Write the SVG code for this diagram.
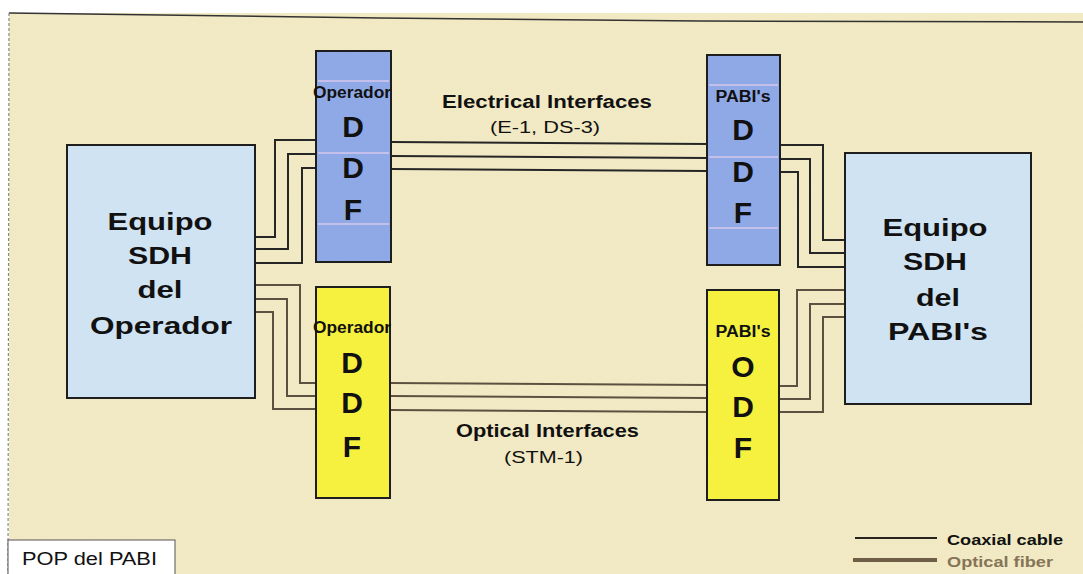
<svg xmlns="http://www.w3.org/2000/svg" width="1083" height="574" viewBox="0 0 1083 574">
<defs>
<style>
.bg{fill:#f2eac4}
.eq{fill:#d0e3f2;stroke:#1e1e1e;stroke-width:2}
.ddf{fill:#8fa8e6;stroke:#1e1e1e;stroke-width:2}
.odf{fill:#f6f03e;stroke:#1e1e1e;stroke-width:2}
.cell{stroke:#d6c8ec;stroke-width:1.5;fill:none}
.coax{fill:none;stroke:#262626;stroke-width:2}
.fiber{fill:none;stroke:#5e5040;stroke-width:2}
text{font-family:"Liberation Sans",Arial,sans-serif;fill:#111}
.big{font-size:24px;font-weight:bold;text-anchor:middle}
.let{font-size:30px;font-weight:bold;text-anchor:middle}
.lab{font-size:16px;font-weight:bold;text-anchor:middle}
.ttl{font-size:18px;font-weight:bold}
.sub{font-size:16px}
</style>
<filter id="grain" x="0" y="0" width="100%" height="100%">
<feTurbulence type="fractalNoise" baseFrequency="0.9" numOctaves="2" seed="3"/>
<feColorMatrix type="matrix" values="0 0 0 0 0.75  0 0 0 0 0.7  0 0 0 0 0.5  0 0 0 0.3 -0.05"/>
</filter>
</defs>
<rect x="0" y="0" width="1083" height="574" fill="#ffffff"/>
<rect class="bg" x="9" y="13" width="1074" height="561"/>
<rect x="9" y="13" width="1074" height="561" filter="url(#grain)" opacity="0.35"/>
<polyline points="9,13 380,18 700,21 1083,22" fill="none" stroke="#333" stroke-width="1.5"/>
<line x1="9" y1="13" x2="8" y2="574" stroke="#888" stroke-width="1.2" stroke-dasharray="3,2"/>

<g id="connectors">
<polyline class="coax" points="255,237 275,237 275,140 316,140"/>
<polyline class="coax" points="255,249 288,249 288,154 316,154"/>
<polyline class="coax" points="255,263 302,263 302,168 316,168"/>
<line class="coax" x1="391" y1="142" x2="707" y2="144"/>
<line class="coax" x1="391" y1="156" x2="707" y2="158"/>
<line class="coax" x1="391" y1="169" x2="707" y2="171"/>
<polyline class="coax" points="780,145 823,145 823,240 845,240"/>
<polyline class="coax" points="780,159 810,159 810,253 845,253"/>
<polyline class="coax" points="780,172 798,172 798,267 845,267"/>
<polyline class="fiber" points="255,285 300,285 300,383 316,383"/>
<polyline class="fiber" points="255,299 287,299 287,396 316,396"/>
<polyline class="fiber" points="255,312 273,312 273,409 316,409"/>
<line class="fiber" x1="390" y1="383" x2="707" y2="385"/>
<line class="fiber" x1="390" y1="396" x2="707" y2="398"/>
<line class="fiber" x1="390" y1="410" x2="707" y2="412"/>
<polyline class="fiber" points="779,386 797,386 797,290 845,290"/>
<polyline class="fiber" points="779,399 810,399 810,304 845,304"/>
<polyline class="fiber" points="779,412 823,412 823,317 845,317"/>
</g>

<g id="equipo-operador">
<rect class="eq" x="67" y="145" width="188" height="253"/>
<text class="big" x="160" y="230" textLength="105" lengthAdjust="spacingAndGlyphs">Equipo</text>
<text class="big" x="160" y="264" textLength="64" lengthAdjust="spacingAndGlyphs">SDH</text>
<text class="big" x="160" y="298" textLength="45" lengthAdjust="spacingAndGlyphs">del</text>
<text class="big" x="161" y="334" textLength="142" lengthAdjust="spacingAndGlyphs">Operador</text>
</g>

<g id="ddf-operador">
<rect class="ddf" x="316" y="51" width="75" height="211"/>
<line class="cell" x1="318" y1="81" x2="389" y2="81"/>
<line class="cell" x1="318" y1="153" x2="389" y2="153"/>
<line class="cell" x1="318" y1="224" x2="389" y2="224"/>
<text class="lab" x="352" y="98" textLength="78" lengthAdjust="spacingAndGlyphs">Operador</text>
<text class="let" x="353" y="137">D</text>
<text class="let" x="353" y="178">D</text>
<text class="let" x="353" y="220">F</text>
</g>

<g id="ddf-operador-optical">
<rect class="odf" x="316" y="287" width="74" height="211"/>
<text class="lab" x="352" y="333" textLength="78" lengthAdjust="spacingAndGlyphs">Operador</text>
<text class="let" x="352" y="373">D</text>
<text class="let" x="352" y="413">D</text>
<text class="let" x="352" y="457">F</text>
</g>

<g id="ddf-pabis">
<rect class="ddf" x="707" y="55" width="73" height="210"/>
<line class="cell" x1="709" y1="85" x2="778" y2="85"/>
<line class="cell" x1="709" y1="157" x2="778" y2="157"/>
<line class="cell" x1="709" y1="228" x2="778" y2="228"/>
<text class="lab" x="743" y="102" textLength="55" lengthAdjust="spacingAndGlyphs">PABI's</text>
<text class="let" x="743" y="140">D</text>
<text class="let" x="743" y="182">D</text>
<text class="let" x="743" y="223">F</text>
</g>

<g id="odf-pabis">
<rect class="odf" x="707" y="290" width="72" height="210"/>
<text class="lab" x="743" y="337" textLength="55" lengthAdjust="spacingAndGlyphs">PABI's</text>
<text class="let" x="743" y="377">O</text>
<text class="let" x="743" y="417">D</text>
<text class="let" x="743" y="458">F</text>
</g>

<g id="equipo-pabis">
<rect class="eq" x="845" y="153" width="186" height="251"/>
<text class="big" x="935" y="236" textLength="105" lengthAdjust="spacingAndGlyphs">Equipo</text>
<text class="big" x="935" y="270" textLength="64" lengthAdjust="spacingAndGlyphs">SDH</text>
<text class="big" x="938" y="306" textLength="44" lengthAdjust="spacingAndGlyphs">del</text>
<text class="big" x="938" y="340" textLength="100" lengthAdjust="spacingAndGlyphs">PABI's</text>
</g>

<g id="labels">
<text class="ttl" x="442" y="108" textLength="210" lengthAdjust="spacingAndGlyphs">Electrical Interfaces</text>
<text class="sub" x="490" y="133" textLength="110" lengthAdjust="spacingAndGlyphs">(E-1, DS-3)</text>
<text class="ttl" x="456" y="437" textLength="183" lengthAdjust="spacingAndGlyphs">Optical Interfaces</text>
<text class="sub" x="504" y="463" textLength="79" lengthAdjust="spacingAndGlyphs">(STM-1)</text>
</g>

<g id="pop-label">
<rect x="8" y="540" width="167" height="36" fill="#ffffff" stroke="#555" stroke-width="1"/>
<text x="22" y="565" font-size="18" textLength="135" lengthAdjust="spacingAndGlyphs">POP del PABI</text>
</g>

<g id="legend">
<line x1="855" y1="538" x2="937" y2="538" stroke="#2a2420" stroke-width="2"/>
<text x="947" y="545" font-size="15" font-weight="bold" textLength="116" lengthAdjust="spacingAndGlyphs">Coaxial cable</text>
<line x1="853" y1="560" x2="937" y2="560" stroke="#6e5e46" stroke-width="4"/>
<text x="947" y="567" font-size="15" font-weight="bold" style="fill:#857457" textLength="106" lengthAdjust="spacingAndGlyphs">Optical fiber</text>
</g>
</svg>
